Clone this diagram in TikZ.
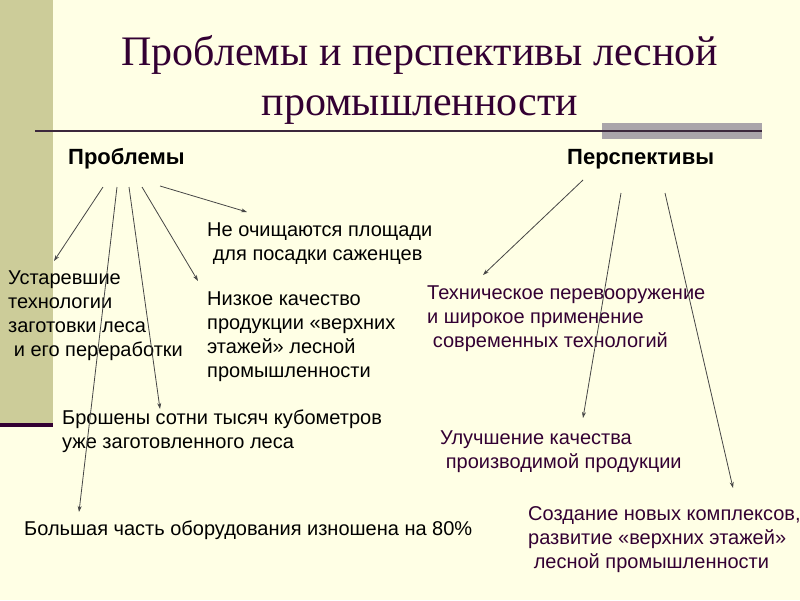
\documentclass[tikz,border=0pt]{standalone}
\usepackage{fontspec}
\setmainfont{Liberation Sans}
\newfontfamily\titlefont{Liberation Serif}
\usetikzlibrary{arrows.meta}
\definecolor{bgc}{RGB}{255,255,229}
\definecolor{barc}{RGB}{204,204,153}
\definecolor{purp}{RGB}{51,0,51}
\definecolor{linec}{RGB}{60,40,60}
\definecolor{grayblk}{RGB}{170,165,170}
\definecolor{arrc}{RGB}{70,70,70}
\newcommand{\ind}{\hspace*{0.28em}}
\tikzset{
  body/.style={anchor=north west,inner sep=0pt,align=left,font=\fontsize{20}{24}\selectfont},
  lefttxt/.style={body,text=black},
  righttxt/.style={body,text=purp},
  head/.style={anchor=west,inner sep=0pt,font=\fontsize{22}{26}\selectfont\bfseries,text=black},
  arr/.style={draw=arrc,line width=0.8pt,-{Stealth[length=6pt,width=4pt]}}
}
\begin{document}
\begin{tikzpicture}[x=1pt,y=-1pt]
\fill[bgc] (0,0) rectangle (800,600);
\useasboundingbox (0,0) rectangle (800,600);
\fill[barc] (0,0) rectangle (53,424);
\fill[purp] (0,423) rectangle (53,427);
\fill[grayblk] (602,123) rectangle (762,139);
\draw[linec,line width=1.6pt] (35,131) -- (762,131);
\node[inner sep=0pt,align=center,text=purp,font=\titlefont\fontsize{42}{50}\selectfont] (title) at (420,80) {Проблемы и перспективы лесной\\промышленности};
\node[head] (prob) at (68,159) {Проблемы};
\node[head] (persp) at (567,159) {Перспективы};
\node[lefttxt] (n1) at (207,223) {Не очищаются площади\\\ind для посадки саженцев};
\node[lefttxt] (n2) at (8,271) {Устаревшие\\технологии\\заготовки леса\\\ind и его переработки};
\node[lefttxt] (n3) at (207,292) {Низкое качество\\продукции «верхних\\этажей» лесной\\промышленности};
\node[lefttxt] (n4) at (62,410) {Брошены сотни тысяч кубометров\\уже заготовленного леса};
\node[lefttxt] (n5) at (24,521) {Большая часть оборудования изношена на 80\%};
\node[righttxt] (r1) at (427,286) {Техническое перевооружение\\и широкое применение\\\ind современных технологий};
\node[righttxt] (r2) at (440,431) {Улучшение качества\\\ind производимой продукции};
\node[righttxt] (r3) at (528,506) {Создание новых комплексов,\\развитие «верхних этажей»\\\ind лесной промышленности};
\coordinate (s1) at (103,187); \coordinate (t1) at (54,261);
\coordinate (s2) at (117,187); \coordinate (t2) at (79,512);
\coordinate (s3) at (129,187); \coordinate (t3) at (160,409);
\coordinate (s4) at (142,187); \coordinate (t4) at (198,281);
\coordinate (s5) at (160,186); \coordinate (t5) at (247,212);
\coordinate (s6) at (583,180); \coordinate (t6) at (483,275);
\coordinate (s7) at (621,193); \coordinate (t7) at (583,418);
\coordinate (s8) at (665,193); \coordinate (t8) at (733,488);
\draw[arr] (s1) -- (t1);
\draw[arr] (s2) -- (t2);
\draw[arr] (s3) -- (t3);
\draw[arr] (s4) -- (t4);
\draw[arr] (s5) -- (t5);
\draw[arr] (s6) -- (t6);
\draw[arr] (s7) -- (t7);
\draw[arr] (s8) -- (t8);
\end{tikzpicture}
\end{document}
